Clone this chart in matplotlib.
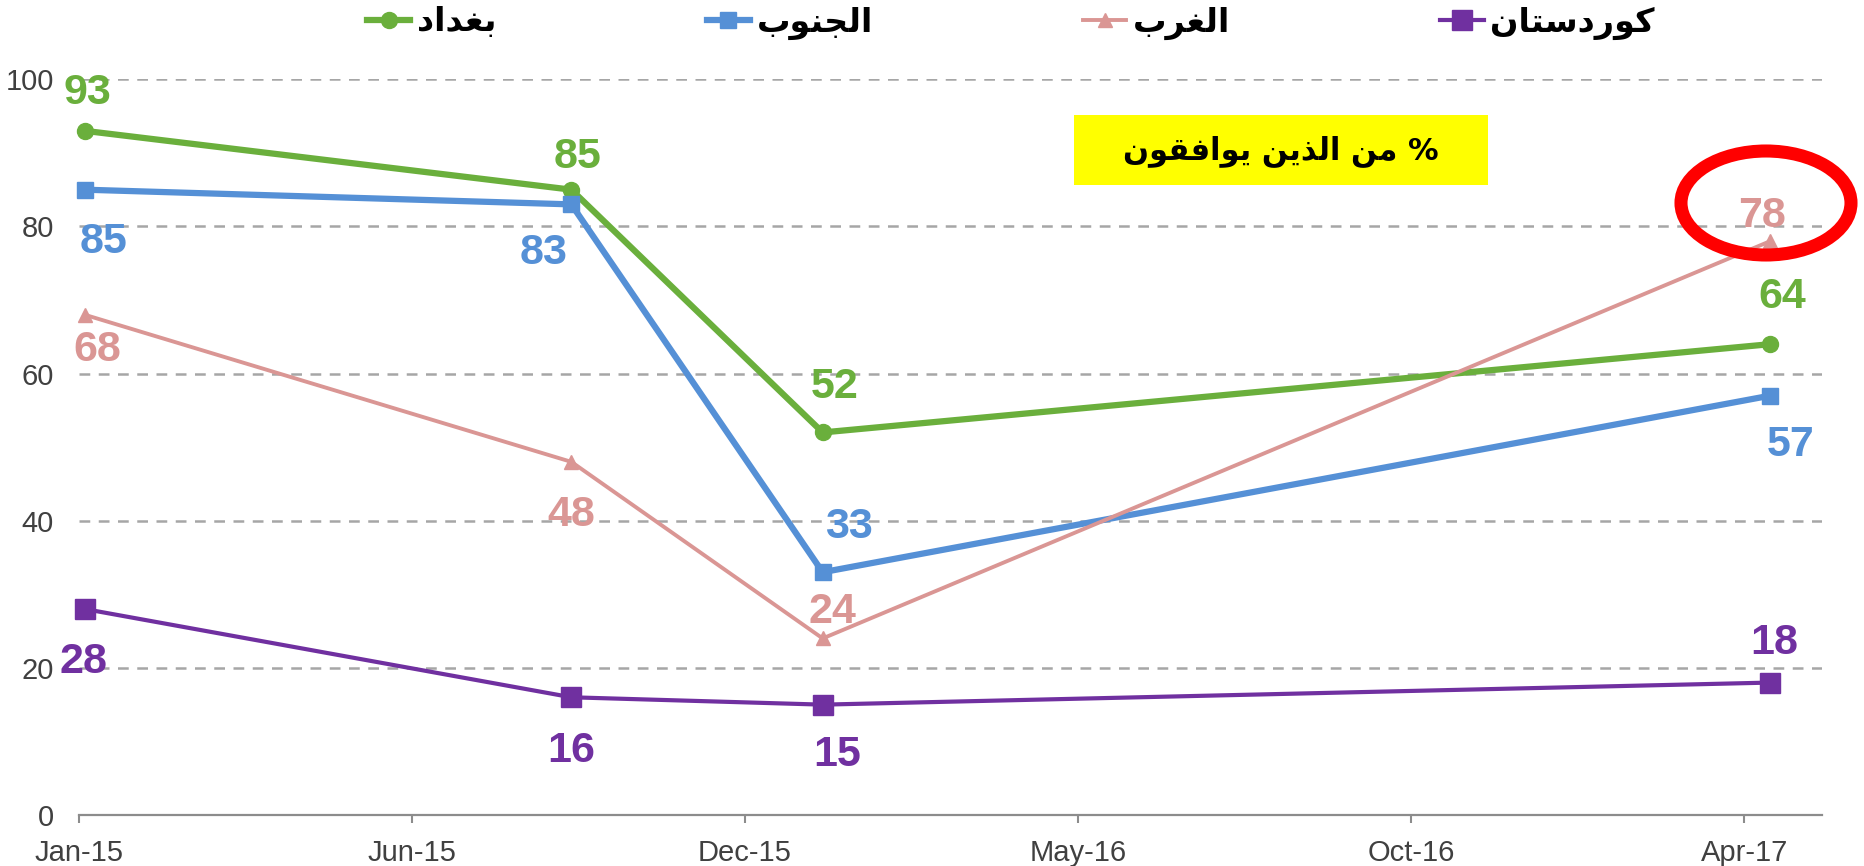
import numpy as np
import matplotlib
matplotlib.use("agg")
import matplotlib.pyplot as plt
import matplotlib.dates as mdates
from matplotlib.lines import Line2D
from matplotlib.patches import Ellipse, Rectangle

# survey waves
dates = np.array(["2015-01-04", "2015-09-05", "2016-01-09", "2017-04-28"],
                 dtype="datetime64[D]")

baghdad = [93, 85, 52, 64]
south = [85, 83, 33, 57]
west = [68, 48, 24, 78]
kurdistan = [28, 16, 15, 18]

series_names = ["بغداد", "الجنوب", "الغرب", "كوردستان"]
box_title = "% من الذين يوافقون"

# label offsets in pixels (dx, dy; dy positive = down), one per point
label_offsets = {
    "baghdad": [(3, -42), (6, -37), (12, -49), (12, -51)],
    "south": [(19, 48), (-28, 45), (26, -49), (20, 45)],
    "west": [(13, 31), (0, 49), (10, -30), (-8, -29)],
    "kurdistan": [(-1, 49), (0, 50), (14, 46), (4, -44)],
}

# matplotlib does no Arabic shaping, so pick the contextual
# presentation forms by hand and lay the string out in visual order.
FORMS = {
    "ا": ("\uFE8D", "\uFE8E", None, None),
    "ب": ("\uFE8F", "\uFE90", "\uFE91", "\uFE92"),
    "ت": ("\uFE95", "\uFE96", "\uFE97", "\uFE98"),
    "ج": ("\uFE9D", "\uFE9E", "\uFE9F", "\uFEA0"),
    "د": ("\uFEA9", "\uFEAA", None, None),
    "ذ": ("\uFEAB", "\uFEAC", None, None),
    "ر": ("\uFEAD", "\uFEAE", None, None),
    "س": ("\uFEB1", "\uFEB2", "\uFEB3", "\uFEB4"),
    "غ": ("\uFECD", "\uFECE", "\uFECF", "\uFED0"),
    "ف": ("\uFED1", "\uFED2", "\uFED3", "\uFED4"),
    "ق": ("\uFED5", "\uFED6", "\uFED7", "\uFED8"),
    "ك": ("\uFED9", "\uFEDA", "\uFEDB", "\uFEDC"),
    "ل": ("\uFEDD", "\uFEDE", "\uFEDF", "\uFEE0"),
    "م": ("\uFEE1", "\uFEE2", "\uFEE3", "\uFEE4"),
    "ن": ("\uFEE5", "\uFEE6", "\uFEE7", "\uFEE8"),
    "و": ("\uFEED", "\uFEEE", None, None),
    "ي": ("\uFEF1", "\uFEF2", "\uFEF3", "\uFEF4"),
}


def arabic(text):
    out = []
    for i, ch in enumerate(text):
        if ch not in FORMS:
            out.append(ch)
            continue
        prev = text[i - 1] if i > 0 else ""
        nxt = text[i + 1] if i + 1 < len(text) else ""
        joins_prev = prev in FORMS and FORMS[prev][2] is not None
        joins_next = nxt in FORMS and FORMS[ch][2] is not None
        iso, fin, ini, med = FORMS[ch]
        if joins_prev and joins_next:
            out.append(med)
        elif joins_prev:
            out.append(fin)
        elif joins_next:
            out.append(ini)
        else:
            out.append(iso)
    return "".join(reversed(out))


GREEN = "#6AAF3C"
BLUE = "#5590D6"
PINK = "#DA9694"
PURPLE = "#7030A0"
GRID = "#A6A6A6"
TXT = "#404040"

plt.rcParams["font.family"] = ["Liberation Sans", "DejaVu Sans"]
AR_FONT = ["DejaVu Sans"]

fig = plt.figure(figsize=(18.64, 8.66), dpi=100)
ax = fig.add_axes([0.0422, 0.0589, 0.9353, 0.8495])

styles = [
    ("baghdad", baghdad, GREEN, "o", 11.5, 4.5),
    ("south", south, BLUE, "s", 12, 4.5),
    ("west", west, PINK, "^", 10, 2.8),
    ("kurdistan", kurdistan, PURPLE, "s", 14, 3.0),
]

handles = []
for (key, vals, col, mk, ms, lw), name in zip(styles, series_names):
    ax.plot(dates, vals, color=col, lw=lw, marker=mk, ms=ms,
            mec=col, mfc=col, zorder=3, clip_on=False)
    for d, v, (dx, dy) in zip(dates, vals, label_offsets[key]):
        # shift to baseline so digits sit centred on the measured point
        ax.annotate(str(v), xy=(d, v), xytext=(dx * 0.72, -(dy + 15) * 0.72),
                    textcoords="offset points", ha="center", va="baseline",
                    fontsize=31, fontweight="bold", color=col, zorder=4)
    handles.append(Line2D([0], [0], color=col, lw=lw, marker=mk, ms=ms,
                          mec=col, mfc=col))

ax.set_ylim(0, 100)
ax.set_yticks(range(0, 101, 20))
ax.set_xlim(np.datetime64("2015-01-01"), np.datetime64("2017-05-24"))
ticks = [np.datetime64("2015-01-01") + np.timedelta64(167 * k, "D")
         for k in range(6)]
ax.set_xticks(ticks)
ax.xaxis.set_major_formatter(mdates.DateFormatter("%b-%y"))

ax.yaxis.grid(True, color=GRID, lw=1.8, linestyle=(0, (4.3, 3.4)))
ax.set_axisbelow(True)
for s in ["top", "right", "left"]:
    ax.spines[s].set_visible(False)
ax.spines["bottom"].set_color("#8C8C8C")
ax.spines["bottom"].set_linewidth(1.6)
ax.tick_params(axis="y", length=0, pad=18, labelsize=21, labelcolor=TXT)
ax.tick_params(axis="x", length=6, width=1.5, color="#8C8C8C", pad=11,
               labelsize=21, labelcolor=TXT)

leg = fig.legend(handles, [arabic(n) for n in series_names], ncol=4,
                 loc="center", bbox_to_anchor=(0.5424, 0.974), frameon=False,
                 handlelength=1.3, handletextpad=0.2, columnspacing=6.3,
                 prop={"family": AR_FONT, "weight": "bold", "size": 24})

# yellow caption box
fig.patches.append(Rectangle((1074 / 1864, 1 - 185 / 866), 414 / 1864,
                             70 / 866, transform=fig.transFigure,
                             facecolor="#FFFF00", edgecolor="none", zorder=5))
fig.text(1281 / 1864, 1 - 151 / 866, arabic(box_title), ha="center",
         va="center", fontsize=22, fontweight="bold", family=AR_FONT,
         color="black", zorder=6)

# red highlight ring around the latest West value
fig.patches.append(Ellipse((1766 / 1864, 1 - 203 / 866), 170 / 1864,
                           104 / 866, transform=fig.transFigure, fill=False,
                           edgecolor="#FF0000", lw=9.4, zorder=7))

fig.savefig("out.png", dpi=100)
